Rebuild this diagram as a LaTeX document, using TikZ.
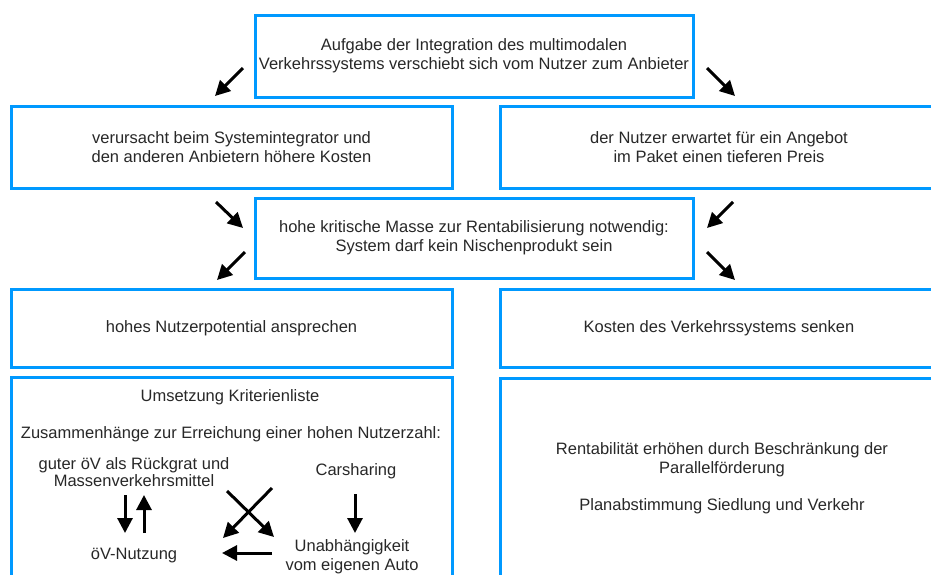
\documentclass[tikz,border=0pt]{standalone}
\usepackage{fontspec}
\setmainfont{Liberation Sans}
\usetikzlibrary{arrows.meta}
\definecolor{boxblue}{RGB}{0,153,255}
\definecolor{txt}{RGB}{40,40,40}
\tikzset{
  box/.style={draw=boxblue, line width=3pt, rectangle, align=center, text=txt, inner sep=0pt},
  lbl/.style={align=center, text=txt, inner sep=0pt},
  arr/.style={line width=3pt, draw=black, -{Triangle[length=15pt,width=15pt]}},
}
\begin{document}
\begin{tikzpicture}[x=1pt,y=-1pt, font=\fontsize{16.5}{19}\selectfont]
\useasboundingbox (0,0) rectangle (931,574);
\clip (0,0) rectangle (931,574);
\fill[white] (0,0) rectangle (931,574);
% boxes
\node[box, minimum width=438pt, minimum height=82pt] (top) at (474,56) {Aufgabe der Integration des multimodalen\\Verkehrssystems verschiebt sich vom Nutzer zum Anbieter};
\node[box, minimum width=441pt, minimum height=82pt] (l2) at (231.5,147) {verursacht beim Systemintegrator und\\den anderen Anbietern höhere Kosten};
\node[box, minimum width=438pt, minimum height=82pt] (r2) at (719,147) {der Nutzer erwartet für ein Angebot\\im Paket einen tieferen Preis};
\node[box, minimum width=438pt, minimum height=80pt] (mid) at (474,238) {hohe kritische Masse zur Rentabilisierung notwendig:\\System darf kein Nischenprodukt sein};
\node[box, minimum width=441pt, minimum height=78pt] (l3) at (231.5,328) {hohes Nutzerpotential ansprechen};
\node[box, minimum width=438pt, minimum height=78pt] (r3) at (719,328) {Kosten des Verkehrssystems senken};
\node[box, minimum width=441pt, minimum height=243pt] (l4) at (231.5,498.5) {};
\node[box, minimum width=438pt, minimum height=242pt] (r4) at (719,499) {};
% arrows between boxes
\coordinate (a1s) at (243,68); \coordinate (a1e) at (215,96);
\coordinate (a2s) at (707,68); \coordinate (a2e) at (735,96);
\coordinate (a3s) at (216,202); \coordinate (a3e) at (243,228);
\coordinate (a4s) at (733,202); \coordinate (a4e) at (707,228);
\coordinate (a5s) at (245,252); \coordinate (a5e) at (217,280);
\coordinate (a6s) at (707,252); \coordinate (a6e) at (735,280);
\draw[arr] (a1s) -- (a1e);
\draw[arr] (a2s) -- (a2e);
\draw[arr] (a3s) -- (a3e);
\draw[arr] (a4s) -- (a4e);
\draw[arr] (a5s) -- (a5e);
\draw[arr] (a6s) -- (a6e);
% left bottom box content
\node[lbl] (uk) at (230,397) {Umsetzung Kriterienliste};
\node[lbl] (zh) at (231,434) {Zusammenhänge zur Erreichung einer hohen Nutzerzahl:};
\node[lbl, font=\fontsize{16.5}{17}\selectfont] (ov) at (134,472) {guter öV als Rückgrat und\\Massenverkehrsmittel};
\node[lbl] (cs) at (356,471) {Carsharing};
\node[lbl] (on) at (134,556) {öV-Nutzung};
\node[lbl] (ua) at (352,557) {Unabhängigkeit\\vom eigenen Auto};
\coordinate (d1s) at (125,495); \coordinate (d1e) at (125,533);
\coordinate (u1s) at (144,533); \coordinate (u1e) at (144,495);
\coordinate (x1s) at (227,491); \coordinate (x1e) at (274,537);
\coordinate (x2s) at (272,488); \coordinate (x2e) at (223,538);
\coordinate (c1s) at (355,494); \coordinate (c1e) at (355,533);
\coordinate (h1s) at (272,553); \coordinate (h1e) at (222,553);
\draw[arr] (d1s) -- (d1e);
\draw[arr] (u1s) -- (u1e);
\draw[arr] (x1s) -- (x1e);
\draw[arr] (x2s) -- (x2e);
\draw[arr] (c1s) -- (c1e);
\draw[arr] (h1s) -- (h1e);
% right bottom box content
\node[lbl] (rt) at (722,460) {Rentabilität erhöhen durch Beschränkung der\\Parallelförderung};
\node[lbl] (pa) at (722,506) {Planabstimmung Siedlung und Verkehr};
\end{tikzpicture}
\end{document}
